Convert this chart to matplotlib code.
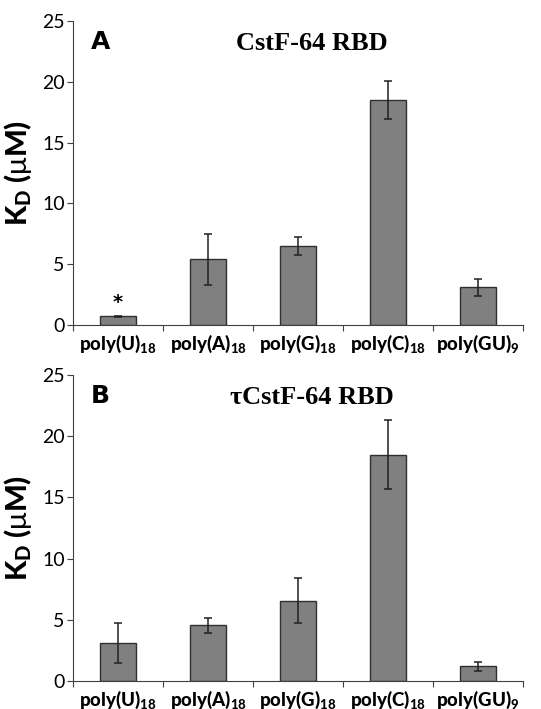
import numpy as np
import matplotlib.pyplot as plt

plt.rcParams['mathtext.fontset'] = 'custom'
plt.rcParams['mathtext.rm'] = 'Lato'
plt.rcParams['mathtext.bf'] = 'Lato:black'

# datos
categorias = [r"poly(U)$_\mathbf{18}$", r"poly(A)$_\mathbf{18}$", r"poly(G)$_\mathbf{18}$",
              r"poly(C)$_\mathbf{18}$", r"poly(GU)$_\mathbf{9}$"]
kd_cstf = [0.7, 5.4, 6.5, 18.5, 3.1]
err_cstf = [0.08, 2.1, 0.75, 1.6, 0.72]
kd_tau = [3.1, 4.55, 6.55, 18.5, 1.2]
err_tau = [1.6, 0.62, 1.85, 2.8, 0.35]
yticks = [0, 5, 10, 15, 20, 25]

fig = plt.figure(figsize=(5.41, 7.09), dpi=100)
ax1 = fig.add_axes([0.135, 0.5416, 0.832, 0.4288])
ax2 = fig.add_axes([0.135, 0.0395, 0.832, 0.4316])


def panel(ax, valores, errores, letra, titulo):
    x = np.arange(len(valores)) + 0.5
    ax.bar(x, valores, width=0.4, color='#808080', edgecolor='#303030', linewidth=1.0,
           yerr=errores, capsize=3, error_kw=dict(ecolor='#202020', elinewidth=1.1, capthick=1.1))
    ax.set_xlim(0, len(valores))
    ax.set_ylim(0, 25)
    ax.set_yticks(yticks)
    ax.set_yticklabels([str(t) for t in yticks], fontsize=14, family='Lato')
    ax.set_xticks(np.arange(len(valores) + 1))
    ax.set_xticklabels([])
    ax.set_xticks(x, minor=True)
    ax.set_xticklabels(categorias, minor=True, fontsize=13.5, fontweight='black', family='Lato')
    ax.tick_params(axis='x', which='minor', length=0, pad=5)
    ax.tick_params(axis='x', which='major', length=4, direction='out', color='#404040')
    ax.tick_params(axis='y', length=4, direction='out', color='#404040', pad=2)
    ax.spines['top'].set_visible(False)
    ax.spines['right'].set_visible(False)
    ax.spines['left'].set_color('#404040')
    ax.spines['bottom'].set_color('#404040')
    ax.set_ylabel(r"K$_\mathbf{D}$ ($\mathrm{\mu}$M)", fontsize=21, fontweight='black',
                  family='Lato', labelpad=6)
    ax.text(0.04, 0.93, letra, transform=ax.transAxes, fontsize=18, fontweight='bold',
            family='DejaVu Sans', va='center', ha='left')
    ax.text(0.53, 0.925, titulo, transform=ax.transAxes, fontsize=19, fontweight='bold',
            family='Liberation Serif', va='center', ha='center')
    return x


x = panel(ax1, kd_cstf, err_cstf, "A", "CstF-64 RBD")
ax1.annotate("*", (x[0], kd_cstf[0]), textcoords="offset points", xytext=(0, 3),
             ha='center', va='bottom', fontsize=14, fontweight='bold')
panel(ax2, kd_tau, err_tau, "B", "τCstF-64 RBD")

fig.savefig("out.png", dpi=100)
